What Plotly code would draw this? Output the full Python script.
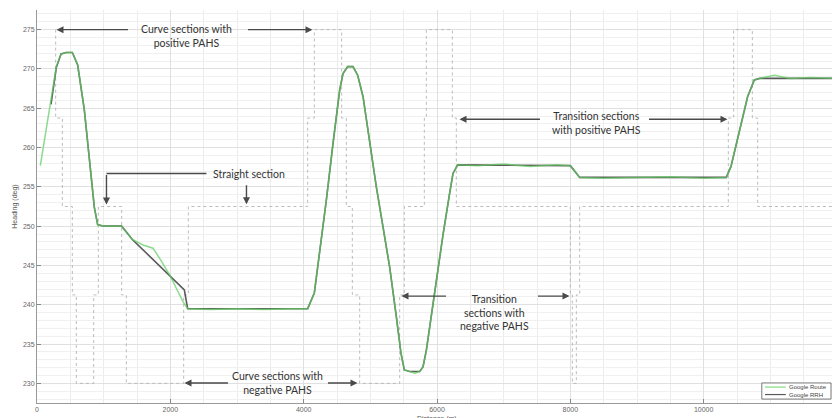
import plotly.graph_objects as go

# ---------------- data ----------------
route_dist = [50, 210, 290, 360, 440, 530, 610, 710, 790, 860,
              910, 1000, 1270, 1430, 1590, 1740, 1840, 1990, 2090, 2190,
              2260, 2600, 3000, 3400, 3800, 4060, 4160, 4240, 4340, 4440,
              4540, 4590, 4660, 4740, 4810, 4890, 4990, 5090, 5190, 5290,
              5390, 5460, 5510, 5590, 5670, 5740, 5790, 5840, 5910, 5990,
              6090, 6190, 6240, 6310, 6600, 7000, 7400, 7800, 8000, 8140,
              8500, 9000, 9500, 10000, 10340, 10410, 10540, 10660, 10760, 10840,
              11060, 11300, 11600, 12000]
route_heading = [257.7, 266.0, 270.3, 271.9, 272.1, 272.1, 270.5, 264.8, 258.4, 252.4,
                 250.2, 250.0, 250.0, 248.3, 247.6, 247.2, 245.9, 243.8, 242.1, 240.4,
                 239.5, 239.4, 239.5, 239.4, 239.5, 239.5, 241.5, 246.5, 253.3, 260.5,
                 267.3, 269.4, 270.3, 270.3, 269.2, 266.5, 260.5, 255.0, 249.9, 244.8,
                 238.5, 233.8, 231.7, 231.5, 231.3, 231.5, 232.1, 234.2, 238.5, 243.1,
                 248.9, 254.2, 256.7, 257.8, 257.7, 257.9, 257.6, 257.8, 257.7, 256.2,
                 256.1, 256.2, 256.3, 256.1, 256.2, 257.6, 262.2, 266.5, 268.6, 268.8,
                 269.2, 268.8, 268.9, 268.8]

rrh_dist = [210, 290, 360, 440, 530, 610, 710, 790, 860, 910,
            1000, 1270, 1430, 2210, 2260, 3000, 4060, 4160, 4240, 4340,
            4440, 4540, 4590, 4660, 4740, 4810, 4890, 4990, 5090, 5190,
            5290, 5390, 5460, 5510, 5590, 5740, 5790, 5840, 5910, 5990,
            6090, 6190, 6240, 6310, 8000, 8140, 10340, 10410, 10540, 10660,
            10760, 10840, 12000]
rrh_heading = [265.5, 270.2, 271.9, 272.1, 272.1, 270.5, 264.8, 258.4, 252.4, 250.2,
               250.0, 250.0, 248.3, 241.9, 239.5, 239.5, 239.5, 241.5, 246.5, 253.3,
               260.5, 267.3, 269.4, 270.3, 270.3, 269.2, 266.5, 260.5, 255.0, 249.9,
               244.8, 238.5, 233.8, 231.7, 231.5, 231.5, 232.1, 234.2, 238.5, 243.1,
               248.9, 254.2, 256.7, 257.8, 257.7, 256.2, 256.2, 257.6, 262.2, 266.5,
               268.6, 268.8, 268.8]

# PAHS section indicator (scaled onto heading axis), step starts
pahs_dist = [280, 280, 380, 530, 590, 850, 920, 1270, 1340, 2200,
             2270, 4060, 4160, 4570, 4640, 4730, 4840, 5440, 5510, 5810,
             5840, 6230, 6290, 8000, 8030, 8090, 8140, 10370, 10450, 10730,
             10810, 12000]
pahs_level = [275, 263.75, 252.5, 241.25, 230, 241.25, 252.5, 241.25, 230, 241.25,
              252.5, 263.75, 275, 263.75, 252.5, 241.25, 230, 241.25, 252.5, 263.75,
              275, 263.75, 252.5, 241.25, 230, 241.25, 252.5, 263.75, 275, 263.75,
              252.5, 252.5]

x_ticks = [0, 2000, 4000, 6000, 8000, 10000, 12000]
y_ticks = [230, 235, 240, 245, 250, 255, 260, 265, 270, 275]

series_names = ["Google Route", "Google RRH"]
series_colors = ["rgba(95,205,95,0.72)", "#5a5a5a"]

# annotation texts and anchor points (data coords)
labels = [
    ("Curve sections with<br>positive PAHS", 2242, 274.2),
    ("Straight section", 3187, 256.6),
    ("Transition sections<br>with positive PAHS", 8392, 263.1),
    ("Transition<br>sections with<br>negative PAHS", 6862, 239.0),
    ("Curve sections with<br>negative PAHS", 3607, 230.0),
]
# arrows: (head_x, head_y, tail_x, tail_y)
arrows = [
    (292, 275, 1387, 275), (4132, 275, 3142, 275),
    (1042, 252.75, 1042, 256.7), (3142, 252.8, 3142, 255.4),
    (6337, 263.6, 7567, 263.6), (10357, 263.6, 9157, 263.6),
    (5467, 241.1, 6157, 241.1), (7987, 241.1, 7492, 241.1),
    (2212, 230.05, 2887, 230.05), (4807, 230.05, 4342, 230.05),
]
connectors = [(1042, 256.7, 2542, 256.7)]

# ---------------- figure ----------------
fig = go.Figure()
fig.add_trace(go.Scatter(x=pahs_dist, y=pahs_level, mode="lines", line_shape="hv",
                         line=dict(color="#b4b4b4", width=0.9, dash="dot"),
                         showlegend=False, hoverinfo="skip"))
fig.add_trace(go.Scatter(x=rrh_dist, y=rrh_heading, mode="lines", name=series_names[1],
                         line=dict(color=series_colors[1], width=1.6), showlegend=False))
fig.add_trace(go.Scatter(x=route_dist, y=route_heading, mode="lines", name=series_names[0],
                         line=dict(color=series_colors[0], width=1.5), showlegend=False))

font_txt = dict(family="Lato, Noto Sans, sans-serif", size=10.5, color="#333333")
for t, x, y in labels:
    fig.add_annotation(x=x, y=y, text=t, showarrow=False, font=font_txt,
                       xanchor="center", yanchor="middle")
for hx, hy, tx, ty in arrows:
    fig.add_annotation(x=hx, y=hy, ax=tx, ay=ty, axref="x", ayref="y", text="",
                       showarrow=True, arrowhead=2, arrowsize=1.0, arrowwidth=1.4,
                       arrowcolor="#4a4a4a", standoff=0, startstandoff=0)
for x0, y0, x1, y1 in connectors:
    fig.add_shape(type="line", x0=x0, y0=y0, x1=x1, y1=y1, xref="x", yref="y",
                  line=dict(color="#4a4a4a", width=1.4))

# hand-drawn compact legend box (paper coords)
fig.add_shape(type="rect", xref="paper", yref="paper", x0=0.906, x1=0.9925, y0=0.01, y1=0.051,
              line=dict(color="#777777", width=1), fillcolor="white", layer="above")
leg_rows = [0.0405, 0.0215]
for name, col, yy in zip(series_names, ["#7fdc7f", "#5a5a5a"], leg_rows):
    fig.add_shape(type="line", xref="paper", yref="paper", x0=0.910, x1=0.936, y0=yy, y1=yy,
                  line=dict(color=col, width=1.2), layer="above")
    fig.add_annotation(xref="paper", yref="paper", x=0.939, y=yy, text=name, showarrow=False,
                       xanchor="left", yanchor="middle", borderpad=0,
                       font=dict(family="Liberation Sans, Arial", size=6, color="#444444"))

# x-axis title placed below the tick labels (partly cut by the frame, as in the source)
fig.add_annotation(xref="paper", yref="paper", x=0.5, y=-0.027, text="Distance (m)",
                   showarrow=False, xanchor="center", yanchor="top", borderpad=0,
                   font=dict(family="Liberation Sans, Arial", size=7, color="#555555"))

tickfont = dict(family="Liberation Sans, Arial, sans-serif", size=7, color="#666666")
fig.update_xaxes(range=[0, 12000], tickvals=x_ticks, ticktext=[str(v) for v in x_ticks],
                 ticks="inside", ticklen=4, tickcolor="#888888", tickfont=tickfont,
                 showline=True, linecolor="#999999", linewidth=1, zeroline=False,
                 showgrid=True, gridcolor="#e0e0e0", gridwidth=1,
                 minor=dict(dtick=500, showgrid=True, gridcolor="#ececec"),
                 automargin=False)
fig.update_yaxes(range=[227.5, 277.5], tickvals=y_ticks, ticktext=[str(v) for v in y_ticks],
                 ticks="inside", ticklen=4, tickcolor="#888888", tickfont=tickfont,
                 showline=True, linecolor="#999999", linewidth=1, zeroline=False,
                 showgrid=True, gridcolor="#e0e0e0", gridwidth=1,
                 minor=dict(dtick=1, showgrid=True, gridcolor="#f0f0f0"),
                 title=dict(text="Heading (deg)", font=dict(family="Liberation Sans, Arial", size=7, color="#555"), standoff=4),
                 automargin=False)

fig.update_layout(
    width=832, height=410,
    margin=dict(l=29, r=3, t=2, b=15),
    paper_bgcolor="white", plot_bgcolor="white",
    showlegend=False,
)

fig.write_html("out.html")
